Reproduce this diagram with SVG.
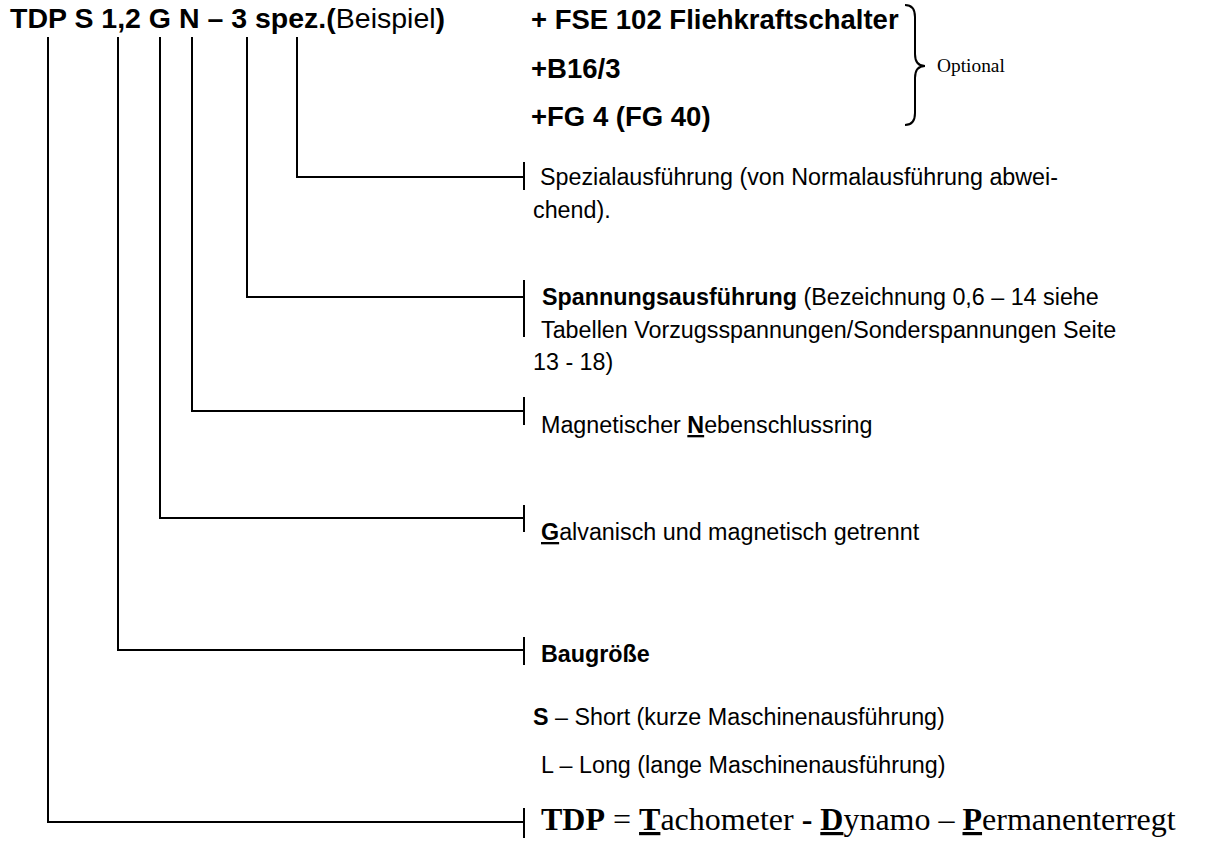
<svg xmlns="http://www.w3.org/2000/svg" width="1215" height="852" viewBox="0 0 1215 852">
<style>
.t{font-family:"Liberation Sans",Arial,sans-serif;fill:#000}
.b{font-weight:bold}
.title{font-size:28.5px}
.opt{font-size:27.5px;font-weight:bold}
.body{font-size:23.3px}
.serif{font-family:"Liberation Serif","Times New Roman",serif;fill:#000}
.ln{stroke:#000;stroke-width:2;fill:none}
</style>
<rect width="1215" height="852" fill="#fff"/>
<g id="title"><text class="t title b" x="10" y="28">TDP S 1,2 G N – 3 spez.(<tspan font-weight="normal">Beispiel</tspan>)</text></g>
<g id="options">
<text class="t opt" x="531" y="29">+ FSE 102 Fliehkraftschalter</text>
<text class="t opt" x="531" y="78">+B16/3</text>
<text class="t opt" x="531" y="126">+FG 4 (FG 40)</text>
<path class="ln" d="M905,5 Q915,5 915,17 L915,54 Q915,66 925,66 Q915,66 915,78 L915,113 Q915,125 905,125"/>
<text class="serif" x="937" y="72" font-size="19.4">Optional</text>
</g>
<g id="connectors">
<path class="ln" d="M297,37 V177 H524 M524,162 V190"/>
<path class="ln" d="M247,37 V297 H524 M524,280 V337"/>
<path class="ln" d="M192,37 V411 H524 M524,397 V425"/>
<path class="ln" d="M160,37 V518 H524 M524,505 V532"/>
<path class="ln" d="M118,37 V650 H524 M524,637 V665"/>
<path class="ln" d="M48,37 V822 H524 M524,808 V838"/>
</g>
<g id="spez">
<text class="t body" x="540" y="185">Spezialausführung (von Normalausführung abwei-</text>
<text class="t body" x="533" y="218">chend).</text>
</g>
<g id="spannung">
<text class="t body" x="542" y="305"><tspan class="b">Spannungsausführung</tspan> (Bezeichnung 0,6 – 14 siehe</text>
<text class="t body" x="541" y="338">Tabellen Vorzugsspannungen/Sonderspannungen Seite</text>
<text class="t body" x="533" y="370">13 - 18)</text>
</g>
<g id="neben">
<text class="t body" x="541" y="433">Magnetischer <tspan class="b" text-decoration="underline">N</tspan>ebenschlussring</text>
</g>
<g id="galv">
<text class="t body" x="541" y="540"><tspan class="b" text-decoration="underline">G</tspan>alvanisch und magnetisch getrennt</text>
</g>
<g id="bau">
<text class="t body b" x="541" y="662">Baugröße</text>
<text class="t body" x="533" y="725"><tspan class="b">S</tspan> – Short (kurze Maschinenausführung)</text>
<text class="t body" x="541" y="773">L – Long (lange Maschinenausführung)</text>
</g>
<g id="tdp">
<text class="serif" x="541" y="830" font-size="32"><tspan font-weight="bold">TDP</tspan> = <tspan font-weight="bold" text-decoration="underline">T</tspan>achometer <tspan font-weight="bold">-</tspan> <tspan font-weight="bold" text-decoration="underline">D</tspan>ynamo – <tspan font-weight="bold" text-decoration="underline">P</tspan>ermanenterregt</text>
</g>
</svg>
